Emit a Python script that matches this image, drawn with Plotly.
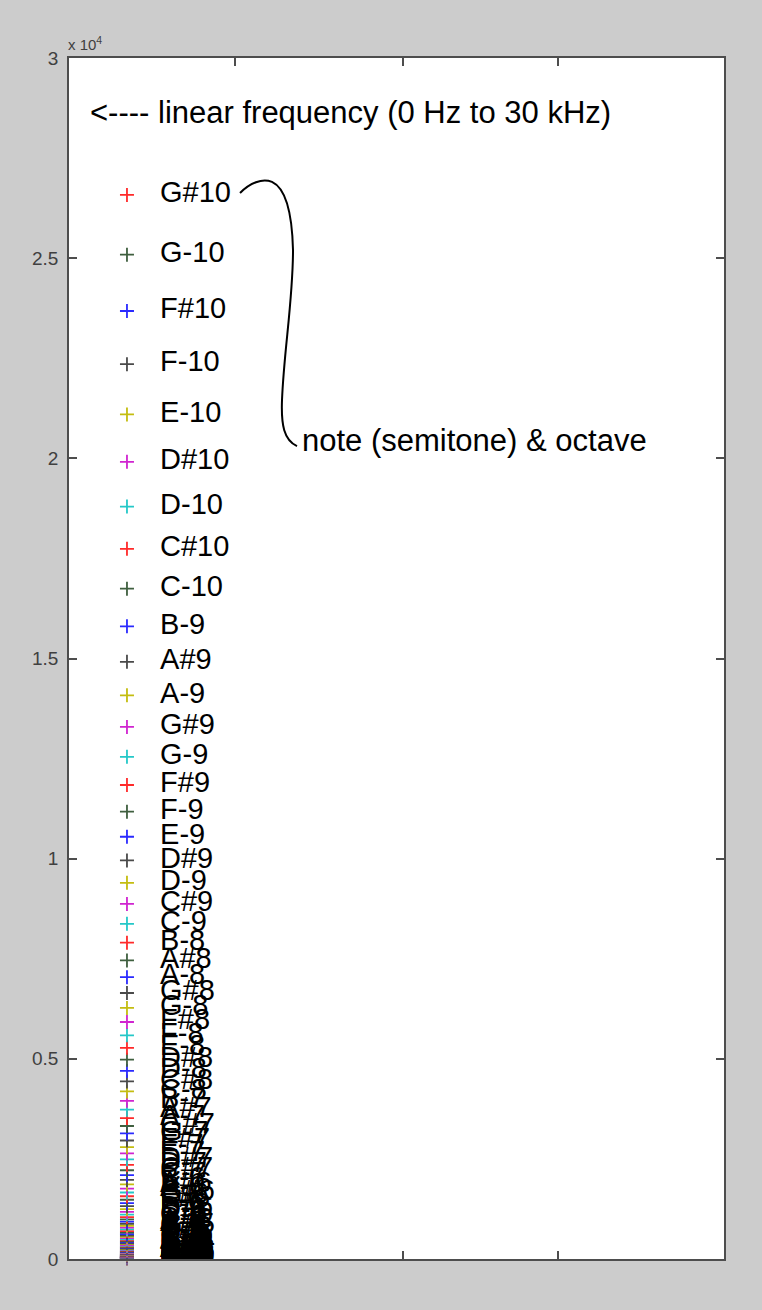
import plotly.graph_objects as go

# ---- data: equal-tempered note frequencies (Hz), C-0 .. G#10 ----
note_names = ["C-", "C#", "D-", "D#", "E-", "F-", "F#", "G-", "G#", "A-", "A#", "B-"]
octaves = [0, 1, 2, 3, 4, 5, 6, 7, 8, 9, 10]

freq_oct0 = [16.352, 17.324, 18.354, 19.445, 20.602, 21.827, 23.125, 24.500, 25.957, 27.500, 29.135, 30.868]
freq_oct1 = [32.703, 34.648, 36.708, 38.891, 41.203, 43.654, 46.249, 48.999, 51.913, 55.000, 58.270, 61.735]
freq_oct2 = [65.406, 69.296, 73.416, 77.782, 82.407, 87.307, 92.499, 97.999, 103.83, 110.00, 116.54, 123.47]
freq_oct3 = [130.81, 138.59, 146.83, 155.56, 164.81, 174.61, 185.00, 196.00, 207.65, 220.00, 233.08, 246.94]
freq_oct4 = [261.63, 277.18, 293.66, 311.13, 329.63, 349.23, 369.99, 392.00, 415.30, 440.00, 466.16, 493.88]
freq_oct5 = [523.25, 554.37, 587.33, 622.25, 659.26, 698.46, 739.99, 783.99, 830.61, 880.00, 932.33, 987.77]
freq_oct6 = [1046.5, 1108.7, 1174.7, 1244.5, 1318.5, 1396.9, 1480.0, 1568.0, 1661.2, 1760.0, 1864.7, 1975.5]
freq_oct7 = [2093.0, 2217.5, 2349.3, 2489.0, 2637.0, 2793.8, 2960.0, 3136.0, 3322.4, 3520.0, 3729.3, 3951.1]
freq_oct8 = [4186.0, 4434.9, 4698.6, 4978.0, 5274.0, 5587.7, 5919.9, 6271.9, 6644.9, 7040.0, 7458.6, 7902.1]
freq_oct9 = [8372.0, 8869.8, 9397.3, 9956.1, 10548, 11175, 11840, 12544, 13290, 14080, 14917, 15804]
freq_oct10 = [16744, 17740, 18795, 19912, 21096, 22351, 23680, 25088, 26580]

freq_by_octave = [freq_oct0, freq_oct1, freq_oct2, freq_oct3, freq_oct4, freq_oct5,
                  freq_oct6, freq_oct7, freq_oct8, freq_oct9, freq_oct10]

# colour cycle, applied from the top note downwards
color_cycle = ["#ff2a2a", "#3f5f3f", "#2a2aff", "#4a4a4a", "#c4bd10", "#d024d0", "#24c8c8"]

y_tick_vals = [0, 5000, 10000, 15000, 20000, 25000, 30000]
y_tick_text = ["0", "0.5", "1", "1.5", "2", "2.5", "3"]

# ---- build ----
freqs, labels = [], []
for o, fl in zip(octaves, freq_by_octave):
    for n, f in zip(note_names, fl):
        freqs.append(f)
        labels.append(f"{n}{o}")
N = len(freqs)
colors = [color_cycle[(N - 1 - i) % len(color_cycle)] for i in range(N)]

X_MARK = 0.0885
X_TEXT = 0.139
FONT = "Liberation Sans, Arial, Helvetica, sans-serif"

fig = go.Figure()
fig.add_trace(go.Scatter(
    x=[X_MARK] * N, y=freqs, mode="markers",
    marker=dict(symbol="cross-thin", size=10, line=dict(width=1.8, color=colors)),
    cliponaxis=False, hoverinfo="skip", showlegend=False,
))
fig.add_trace(go.Scatter(
    x=[X_TEXT] * N, y=freqs, mode="text", text=labels,
    textposition="middle right",
    textfont=dict(family=FONT, size=29, color="black"),
    cliponaxis=True, hoverinfo="skip", showlegend=False,
))
# invisible trace for the top axis
fig.add_trace(go.Scatter(x=[None], y=[None], xaxis="x2", yaxis="y",
                         mode="markers", showlegend=False, hoverinfo="skip"))

axis_col = "#4d4d4d"
fig.update_layout(
    width=762, height=1310, autosize=False,
    paper_bgcolor="#cccccc", plot_bgcolor="white",
    margin=dict(l=69, r=38, t=58, b=51),
    font=dict(family=FONT),
    xaxis=dict(range=[0, 1], tickvals=[0.51, 0.7466], showticklabels=False,
               ticks="inside", ticklen=8, tickcolor=axis_col, tickwidth=1.5,
               showline=True, linecolor=axis_col, linewidth=1.5, mirror=True,
               showgrid=False, zeroline=False, fixedrange=True),
    xaxis2=dict(range=[0, 1], overlaying="x", side="top",
                tickvals=[0.2534, 0.51, 0.7466], showticklabels=False,
                ticks="inside", ticklen=8, tickcolor=axis_col, tickwidth=1.5,
                showline=False, showgrid=False, zeroline=False),
    yaxis=dict(range=[0, 30000], tickvals=y_tick_vals, ticktext=y_tick_text,
               ticks="inside", ticklen=8, tickcolor=axis_col, tickwidth=1.5,
               showline=True, linecolor=axis_col, linewidth=1.5, mirror="ticks",
               showgrid=False, zeroline=False, ticklabelstandoff=5,
               tickfont=dict(family=FONT, size=19, color="#404040")),
)

fig.add_annotation(xref="paper", yref="paper", x=-0.004, y=1.0, yshift=3,
                   xanchor="left", yanchor="bottom", showarrow=False,
                   text="x 10<sup>4</sup>",
                   font=dict(family=FONT, size=15, color="#404040"))
fig.add_annotation(xref="paper", yref="paper", x=(88 - 69) / 655, y=(1259 - 113) / 1201,
                   xanchor="left", yanchor="middle", showarrow=False,
                   text="<---- linear frequency (0 Hz to 30 kHz)",
                   font=dict(family=FONT, size=31, color="black"))
fig.add_annotation(xref="paper", yref="paper", x=(300 - 69) / 655, y=(1259 - 440) / 1201,
                   xanchor="left", yanchor="middle", showarrow=False,
                   text="note (semitone) & octave",
                   font=dict(family=FONT, size=31, color="black"))

# curly connector (decoration), pixel points converted to paper coords
def P(px, py):
    return f"{(px - 69) / 655:.4f},{(1259 - py) / 1201:.4f}"

path = (f"M {P(240,193)} C {P(250,183)} {P(262,178)} {P(272,182)} "
        f"C {P(285,188)} {P(292,210)} {P(293,250)} "
        f"C {P(293,300)} {P(284,350)} {P(282,400)} "
        f"C {P(281,425)} {P(284,440)} {P(297,446)}")
fig.add_shape(type="path", xref="paper", yref="paper", path=path,
              line=dict(color="black", width=2))

fig.write_html("out.html", config={"displayModeBar": False},
               post_script="document.body.style.margin='0';document.body.style.padding='0';")
